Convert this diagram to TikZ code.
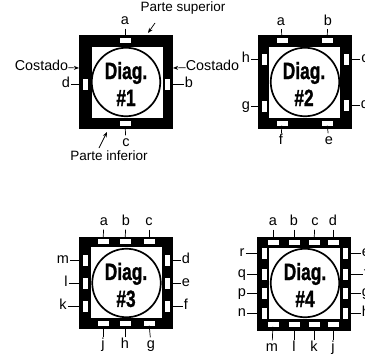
\documentclass[tikz,border=0pt]{standalone}
\usepackage{fontspec}
\setmainfont{Liberation Sans}
\newfontfamily\heavyfont[BoldFeatures={FakeBold=1.4}]{Liberation Sans}
\usetikzlibrary{arrows.meta}

\begin{document}
\begin{tikzpicture}[
  x=1pt, y=-1pt,
  frame/.style={fill=black, minimum size=94pt, inner sep=0pt},
  hole/.style={fill=white, minimum size=71pt, inner sep=0pt},
  ring/.style={circle, draw=black, fill=white, line width=1.7pt, minimum size=68.5pt, inner sep=0pt},
  title/.style={font=\heavyfont\bfseries\fontsize{23.5}{27}\selectfont, xscale=0.74, align=center},
  lab/.style={font=\fontsize{14.5}{15}\selectfont, inner sep=1pt, text height=10pt, text depth=3pt},
  note/.style={font=\fontsize{13.5}{15}\selectfont, inner sep=0pt, text height=10pt, text depth=3pt},
  wide/.style={fill=white, minimum width=11pt, minimum height=5pt, inner sep=0pt},
  tall/.style={fill=white, minimum width=5pt, minimum height=11pt, inner sep=0pt},
  tick/.style={line width=0.7pt},
  arr/.style={-{Stealth[length=1.8mm,width=1.4mm]}, line width=0.7pt}
]
\useasboundingbox (0,0) rectangle (365,356);

% Diag. 1
\node[frame] (frameA) at (126,82) {};
\node[hole] (holeA) at (127,82) {};
\node[ring] (ringA) at (126,82) {};
\node[title] (titleA) at (126,84) {Diag.\\\#1};
\foreach \t/\st/\sx/\sy/\lx/\ly in {a/wide/125/40/125/21, b/tall/167/84/189/84, c/wide/125/123.5/126/143, d/tall/85/84/66/84}{
  \node[\st] (sA\t) at (\sx,\sy) {};
  \node[lab] (lA\t) at (\lx,\ly) {\t};
  \draw[tick] (lA\t) -- (sA\t);
}
\node[note] (top) at (183,8) {Parte superior};
\node[note] (bottom) at (109,157) {Parte inferior};
\node[note, font=\fontsize{14.3}{15}\selectfont] (sideL) at (41.5,67) {Costado};
\node[note, font=\fontsize{14.3}{15}\selectfont] (sideR) at (212.5,67) {Costado};
\coordinate (topEnd) at (148,33);
\coordinate (topStart) at (155,23);
\coordinate (bottomEnd) at (107,132);
\coordinate (bottomStart) at (99,148);
\coordinate (sideLEnd) at (79,68);
\coordinate (sideREnd) at (173,68);
\draw[arr] (topStart) -- (topEnd);
\draw[arr] (bottomStart) -- (bottomEnd);
\draw[arr] (sideL) -- (sideLEnd);
\draw[arr] (sideR) -- (sideREnd);

% Diag. 2
\node[frame] (frameB) at (304.5,81.5) {};
\node[hole] (holeB) at (304.5,82) {};
\node[ring] (ringB) at (305,82) {};
\node[title] (titleB) at (304,84) {Diag.\\\#2};
\foreach \t/\st/\sx/\sy/\lx/\ly in {a/wide/282/40/281/21.5, b/wide/327/40/328/21.5, c/tall/346/59/365/59, d/tall/346/105/365/105, e/wide/327/123/329/141, f/wide/282/123/281/141, g/tall/264/106/246/106, h/tall/264/59/246/59}{
  \node[\st] (sB\t) at (\sx,\sy) {};
  \node[lab] (lB\t) at (\lx,\ly) {\t};
  \draw[tick] (lB\t) -- (sB\t);
}

% Diag. 3
\node[frame, minimum height=92pt] (frameC) at (125.5,283) {};
\node[hole] (holeC) at (126.5,282.5) {};
\node[ring] (ringC) at (126.5,283) {};
\node[title] (titleC) at (126,285) {Diag.\\\#3};
\foreach \t/\st/\sx/\sy/\lx/\ly in {a/wide/103/241/104/222, b/wide/125/241/126/222, c/wide/149/241/149/222, d/tall/167/260/186/260, e/tall/167/283/186/283, f/tall/167/306/186/306, g/wide/149/323/151/345, h/wide/125/323/125/345, j/wide/103/323/103/345, k/tall/85/306/63/306, l/tall/85/283/66/283, m/tall/85/260/63/260}{
  \node[\st] (sC\t) at (\sx,\sy) {};
  \node[lab] (lC\t) at (\lx,\ly) {\t};
  \draw[tick] (lC\t) -- (sC\t);
}

% Diag. 4
\node[frame] (frameD) at (304,284) {};
\node[hole] (holeD) at (304.5,283) {};
\node[ring] (ringD) at (305,283) {};
\node[title] (titleD) at (305,285) {Diag.\\\#4};
\foreach \t/\st/\sx/\sy/\lx/\ly in {a/wide/273/242/273/222, b/wide/294/242/294/222, c/wide/314/242/315/222, d/wide/333/242/333/222, e/tall/345/253/366/253, f/tall/345/274/366/274, g/tall/345/293/366/293, h/tall/345/313/366/313, j/wide/333/324/333/348, k/wide/314/324/314/348, l/wide/294/324/294/348, m/wide/273/324/272/348, n/tall/264/313/242/313, p/tall/264/293/242/293, q/tall/264/274/242/274, r/tall/264/253/242/253}{
  \node[\st] (sD\t) at (\sx,\sy) {};
  \node[lab] (lD\t) at (\lx,\ly) {\t};
  \draw[tick] (lD\t) -- (sD\t);
}
\end{tikzpicture}
\end{document}
